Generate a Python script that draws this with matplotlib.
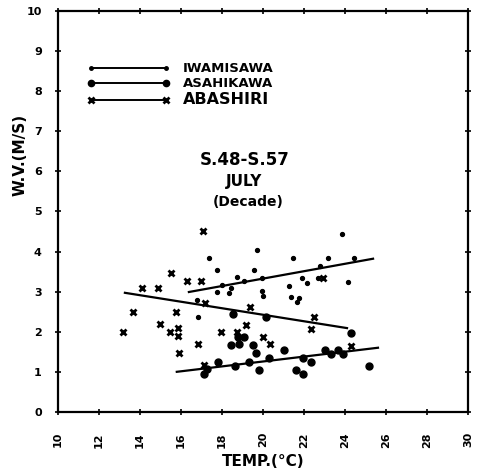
import matplotlib
matplotlib.use("Agg")
import matplotlib.pyplot as plt
from matplotlib.lines import Line2D

# July decade means, wind velocity vs. temperature
iwa_temp = [17.37, 19.71, 21.46, 23.85, 17.76, 19.56, 23.17, 24.44, 18.73, 19.07,
            19.95, 22.78, 18.00, 17.76, 18.44, 18.34, 19.95, 20.00, 21.27, 21.90,
            22.68, 22.15, 24.15, 21.37, 21.76, 21.66, 16.78, 16.83]
iwa_wv = [3.84, 4.04, 3.84, 4.44, 3.54, 3.54, 3.84, 3.84, 3.37, 3.27,
          3.34, 3.64, 3.17, 2.99, 3.09, 2.97, 3.02, 2.89, 3.14, 3.34,
          3.34, 3.22, 3.24, 2.87, 2.84, 2.74, 2.79, 2.37]

asa_temp = [18.54, 20.15, 18.78, 19.07, 18.44, 18.83, 19.51, 19.66, 21.02, 17.80,
            19.32, 20.29, 18.63, 17.27, 17.12, 19.80, 21.61, 21.95, 21.95, 22.34,
            23.02, 23.32, 23.66, 23.90, 24.29, 25.17]
asa_wv = [2.44, 2.37, 1.87, 1.87, 1.67, 1.70, 1.67, 1.47, 1.55, 1.25,
          1.25, 1.35, 1.15, 1.07, 0.95, 1.05, 1.05, 0.95, 1.35, 1.25,
          1.55, 1.45, 1.55, 1.45, 1.97, 1.15]

aba_temp = [17.07, 15.51, 16.29, 16.98, 14.10, 14.88, 17.17, 19.37, 13.66, 15.76,
            14.98, 13.17, 15.46, 15.85, 15.85, 16.83, 15.90, 17.12, 19.17, 17.95,
            18.73, 20.00, 20.34, 22.49, 22.34, 24.29, 22.93]
aba_wv = [4.51, 3.47, 3.27, 3.27, 3.09, 3.09, 2.72, 2.62, 2.49, 2.49,
          2.19, 2.00, 2.00, 2.09, 1.90, 1.70, 1.47, 1.17, 2.17, 2.00,
          2.00, 1.87, 1.70, 2.37, 2.07, 1.65, 3.34]

# regression lines (start / end)
iwa_fit_t = [16.39, 25.37]
iwa_fit_v = [2.99, 3.82]
asa_fit_t = [15.80, 25.61]
asa_fit_v = [1.00, 1.60]
aba_fit_t = [13.27, 24.10]
aba_fit_v = [2.97, 2.09]

x_ticks = list(range(10, 31, 2))
y_ticks = list(range(0, 11))

fig = plt.figure(figsize=(4.82, 4.74), dpi=100)
ax = fig.add_axes([0.120, 0.131, 0.851, 0.846])

ax.plot(iwa_temp, iwa_wv, "o", color="black", markersize=2.8, linestyle="none")
ax.plot(asa_temp, asa_wv, "o", color="black", markersize=5.0, linestyle="none")
ax.plot(aba_temp, aba_wv, "x", color="black", markersize=4.5, mew=2.0, linestyle="none")

ax.plot(iwa_fit_t, iwa_fit_v, color="black", lw=1.6)
ax.plot(asa_fit_t, asa_fit_v, color="black", lw=1.6)
ax.plot(aba_fit_t, aba_fit_v, color="black", lw=1.6)

ax.set_xlim(10, 30)
ax.set_ylim(0, 10)
ax.set_xticks(x_ticks)
ax.set_yticks(y_ticks)
ax.set_xticklabels([str(t) for t in x_ticks], rotation=90, fontweight="bold", fontsize=8)
ax.set_yticklabels([str(t) for t in y_ticks], fontweight="bold", fontsize=8)
ax.tick_params(direction="inout", length=5, width=1.2, top=True, right=True)
ax.tick_params(axis="y", pad=9)
ax.tick_params(axis="x", pad=12)
for s in ax.spines.values():
    s.set_linewidth(1.6)

ax.set_xlabel("TEMP.(°C)", fontweight="bold", fontsize=11)
ax.xaxis.set_label_coords(0.5, -0.105)
ax.set_ylabel("W.V.(M/S)", fontweight="bold", fontsize=11)
ax.yaxis.set_label_coords(-0.075, 0.64)

ax.text(19.1, 6.28, "S.48-S.57", ha="center", va="center", fontweight="bold", fontsize=12)
ax.text(19.1, 5.74, "JULY", ha="center", va="center", fontweight="bold", fontsize=11)
ax.text(19.3, 5.24, "(Decade)", ha="center", va="center", fontweight="bold", fontsize=10)

handles = [
    Line2D([], [], color="black", lw=1.4, marker="o", markersize=2.5),
    Line2D([], [], color="black", lw=1.4, marker="o", markersize=4.5),
    Line2D([], [], color="black", lw=1.4, marker="x", markersize=4.5, mew=2.0),
]
leg = ax.legend(handles, ["IWAMISAWA", "ASAHIKAWA", "ABASHIRI"], loc="upper left",
                bbox_to_anchor=(0.07, 0.872), frameon=False, numpoints=2,
                handlelength=6.3, handletextpad=1.0, labelspacing=0.15,
                borderpad=0, borderaxespad=0,
                prop={"weight": "bold", "size": 9.5})
leg.get_texts()[2].set_fontsize(11.5)

fig.savefig("out.png", dpi=100)
